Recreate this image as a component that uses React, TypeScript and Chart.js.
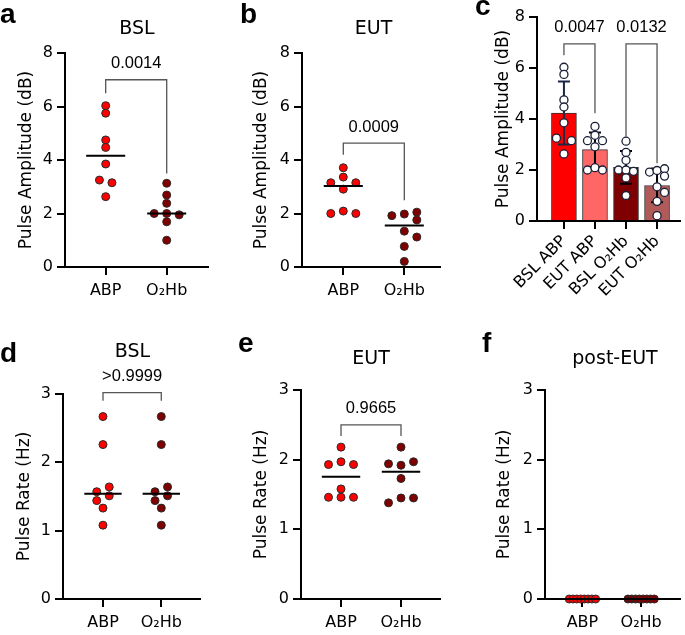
import React, { useEffect, useRef } from 'react';
import { Chart, registerables } from 'chart.js';

Chart.register(...registerables);

// ---------------- data ----------------
const groupLabels = ['ABP', 'O₂Hb'];
const barLabels = ['BSL ABP', 'EUT ABP', 'BSL O₂Hb', 'EUT O₂Hb'];

const ampBslABP = [6.03, 5.75, 4.75, 4.47, 3.85, 3.25, 3.15, 2.63];
const ampBslO2Hb = [3.13, 2.69, 2.38, 2.0, 2.0, 1.95, 1.69, 1.0];
const ampEutABP = [3.71, 3.36, 3.15, 3.15, 2.91, 2.0, 2.09, 2.0];
const ampEutO2Hb = [1.92, 1.98, 2.05, 1.76, 1.34, 1.12, 0.77, 0.21];

const rateBslABP = [2.67, 2.26, 1.57, 1.64, 1.44, 1.51, 1.33, 1.08];
const rateBslO2Hb = [2.67, 2.26, 1.57, 1.64, 1.44, 1.51, 1.33, 1.08];
const rateEutABP = [2.18, 1.93, 1.97, 1.93, 1.58, 1.46, 1.46, 1.46];
const rateEutO2Hb = [2.18, 1.94, 1.92, 1.97, 1.73, 1.38, 1.45, 1.45];
const ratePostABP = [0, 0, 0, 0, 0, 0, 0, 0];
const ratePostO2Hb = [0, 0, 0, 0, 0, 0, 0, 0];

const ampTicks = [0, 2, 4, 6, 8];
const rateTicks = [0, 1, 2, 3];

const pAmpBsl = '0.0014';
const pAmpEut = '0.0009';
const pAmpBslEutABP = '0.0047';
const pAmpBslEutO2Hb = '0.0132';
const pRateBsl = '>0.9999';
const pRateEut = '0.9665';

// ---------------- style ----------------
const RED = '#ff0000';
const MAROON = '#7f0000';
const SALMON = '#ff6666';
const ROSE = '#b05a5a';
const DOT_BORDER = '#2a2a2a';
const SANS = "'DejaVu Sans', Verdana, sans-serif";
const ARIAL = "'Liberation Sans', Arial, sans-serif";

const mean = (a: number[]) => a.reduce((s, v) => s + v, 0) / a.length;
const sd = (a: number[]) => {
  const m = mean(a);
  return Math.sqrt(a.reduce((s, v) => s + (v - m) ** 2, 0) / (a.length - 1));
};
const median = (a: number[]) => {
  const s = [...a].sort((x, y) => x - y);
  const n = s.length;
  return n % 2 ? s[(n - 1) / 2] : (s[n / 2 - 1] + s[n / 2]) / 2;
};

// ---------------- plugins ----------------
const swarm = {
  id: 'swarm',
  afterDatasetsUpdate(chart: any, _args: any, o: any) {
    const { step, maxWidth, pairHalf, rowTol, collide } = o;
    chart.data.datasets.forEach((ds: any, di: number) => {
      if (!ds.swarm) return;
      const meta = chart.getDatasetMeta(di);
      const pts = meta.data.map((el: any, i: number) => ({ el, i, y: el.y, x0: el.x, off: 0 }));
      const sorted = [...pts].sort((a: any, b: any) => a.y - b.y || a.i - b.i);
      const rows: any[][] = [];
      for (const p of sorted) {
        const last = rows[rows.length - 1];
        if (last && p.y - last[0].y < rowTol) last.push(p);
        else rows.push([p]);
      }
      const placed: any[] = [];
      for (const row of rows) {
        row.sort((a: any, b: any) => a.i - b.i);
        const n = row.length;
        let layouts: number[][];
        if (n === 1) layouts = [[0], [step], [-step], [2 * step], [-2 * step]];
        else if (n === 2)
          layouts = pairHalf ? [[-step / 2, step / 2], [-step, step]] : [[-step, step], [-1.5 * step, 1.5 * step]];
        else {
          const s = Math.min(step, maxWidth / (n - 1));
          layouts = [row.map((_: any, k: number) => (k - (n - 1) / 2) * s)];
        }
        let chosen = layouts[layouts.length - 1];
        for (const lay of layouts) {
          const ok = row.every((p: any, k: number) =>
            placed.every((q: any) => !(Math.abs(q.y - p.y) < collide && Math.abs(q.off - lay[k]) < 0.75 * step))
          );
          if (ok) {
            chosen = lay;
            break;
          }
        }
        row.forEach((p: any, k: number) => {
          p.off = chosen[k];
          p.el.x = p.x0 + chosen[k];
          placed.push(p);
        });
      }
    });
  },
};

const deco = {
  id: 'deco',
  afterDatasetDraw(chart: any, args: any) {
    const ds = chart.data.datasets[args.index];
    if (!ds.errorSD) return;
    const ctx = chart.ctx;
    const ys = chart.scales.y;
    args.meta.data.forEach((el: any, i: number) => {
      const m = ds.data[i].y;
      const s = ds.errorSD[i];
      const yt = ys.getPixelForValue(m + s);
      const yb = ys.getPixelForValue(m - s);
      ctx.save();
      ctx.strokeStyle = ds.errorColors[i];
      ctx.lineWidth = 2;
      ctx.beginPath();
      ctx.moveTo(el.x, yt);
      ctx.lineTo(el.x, yb);
      ctx.moveTo(el.x - 6, yt);
      ctx.lineTo(el.x + 6, yt);
      ctx.moveTo(el.x - 6, yb);
      ctx.lineTo(el.x + 6, yb);
      ctx.stroke();
      ctx.restore();
    });
  },
  afterDatasetsDraw(chart: any, _args: any, o: any) {
    const ctx = chart.ctx;
    const xs = chart.scales.x;
    const ys = chart.scales.y;
    chart.data.datasets.forEach((ds: any) => {
      if (!ds.medianLine) return;
      const y = ys.getPixelForValue(median(ds.values));
      ctx.save();
      ctx.strokeStyle = '#000';
      ctx.lineWidth = 2;
      ctx.beginPath();
      ctx.moveTo(xs.getPixelForValue(ds.cat - o.medianHalf), y);
      ctx.lineTo(xs.getPixelForValue(ds.cat + o.medianHalf), y);
      ctx.stroke();
      ctx.restore();
    });
    (o.brackets || []).forEach((b: any) => {
      const x1 = xs.getPixelForValue(b.from);
      const x2 = xs.getPixelForValue(b.to);
      const yt = ys.getPixelForValue(b.top);
      const y1 = ys.getPixelForValue(b.left);
      const y2 = ys.getPixelForValue(b.right);
      ctx.save();
      ctx.strokeStyle = '#555';
      ctx.lineWidth = 1.3;
      ctx.beginPath();
      ctx.moveTo(x1, y1);
      ctx.lineTo(x1, yt);
      ctx.lineTo(x2, yt);
      ctx.lineTo(x2, y2);
      ctx.stroke();
      ctx.fillStyle = '#000';
      ctx.font = `16.5px ${ARIAL}`;
      ctx.textAlign = 'center';
      ctx.textBaseline = 'middle';
      ctx.fillText(b.label, (x1 + x2) / 2, yt - o.labelGap);
      ctx.restore();
    });
  },
  afterDraw(chart: any, _args: any, o: any) {
    const ctx = chart.ctx;
    ctx.save();
    ctx.fillStyle = '#000';
    ctx.textBaseline = 'alphabetic';
    ctx.font = `bold 28px ${ARIAL}`;
    ctx.textAlign = 'left';
    ctx.fillText(o.letter, o.letterAt[0] - o.origin[0], o.letterAt[1] - o.origin[1]);
    if (o.title) {
      ctx.font = `19px ${SANS}`;
      ctx.textAlign = 'center';
      ctx.fillText(o.title, o.titleAt[0] - o.origin[0], o.titleAt[1] - o.origin[1]);
    }
    ctx.restore();
  },
};

// ---------------- panels ----------------
type Panel = {
  kind: 'dots' | 'bars';
  letter: string;
  letterAt: [number, number];
  title?: string;
  titleAt?: [number, number];
  canvas: [number, number, number, number];
  area: [number, number, number, number];
  xRange: [number, number];
  yTicks: number[];
  yTitle: string;
  yTitleX: number;
  cats: string[];
  series: number[][];
  colors: string[];
  brackets: any[];
  step: number;
};

const panels: Panel[] = [
  {
    kind: 'dots', letter: 'a', letterAt: [0, 23], title: 'BSL', titleAt: [137, 34],
    canvas: [0, 0, 225, 305], area: [65, 53, 208, 267], xRange: [-0.667, 1.677],
    yTicks: ampTicks, yTitle: 'Pulse Amplitude (dB)', yTitleX: 27, cats: groupLabels,
    series: [ampBslABP, ampBslO2Hb], colors: [RED, MAROON],
    brackets: [{ from: 0, to: 1, top: 7.0, left: 6.5, right: 3.5, label: pAmpBsl }], step: 12.5,
  },
  {
    kind: 'dots', letter: 'b', letterAt: [240, 23], title: 'EUT', titleAt: [373.5, 34],
    canvas: [225, 0, 225, 305], area: [302, 53, 440, 267], xRange: [-0.677, 1.585],
    yTicks: ampTicks, yTitle: 'Pulse Amplitude (dB)', yTitleX: 262, cats: groupLabels,
    series: [ampEutABP, ampEutO2Hb], colors: [RED, MAROON],
    brackets: [{ from: 0, to: 1, top: 4.63, left: 4.2, right: 2.5, label: pAmpEut }], step: 12.5,
  },
  {
    kind: 'bars', letter: 'c', letterAt: [475, 15],
    canvas: [450, 0, 235, 305], area: [537, 17, 680, 221], xRange: [-0.868, 3.73],
    yTicks: ampTicks, yTitle: 'Pulse Amplitude (dB)', yTitleX: 504, cats: barLabels,
    series: [ampBslABP, ampEutABP, ampBslO2Hb, ampEutO2Hb], colors: [RED, SALMON, MAROON, ROSE],
    brackets: [
      { from: 0, to: 1, top: 6.95, left: 6.5, right: 4.23, label: pAmpBslEutABP },
      { from: 2, to: 3, top: 6.95, left: 3.3, right: 2.26, label: pAmpBslEutO2Hb },
    ], step: 7.5,
  },
  {
    kind: 'dots', letter: 'd', letterAt: [0, 362], title: 'BSL', titleAt: [132.5, 357],
    canvas: [0, 305, 225, 330], area: [63, 394, 200, 599], xRange: [-0.686, 1.664],
    yTicks: rateTicks, yTitle: 'Pulse Rate (Hz)', yTitleX: 24.5, cats: groupLabels,
    series: [rateBslABP, rateBslO2Hb], colors: [RED, MAROON],
    brackets: [{ from: 0, to: 1, top: 3.02, left: 2.9, right: 2.9, label: pRateBsl }], step: 12.5,
  },
  {
    kind: 'dots', letter: 'e', letterAt: [238, 352], title: 'EUT', titleAt: [371, 364],
    canvas: [225, 305, 225, 330], area: [301, 390, 440, 599], xRange: [-0.667, 1.65],
    yTicks: rateTicks, yTitle: 'Pulse Rate (Hz)', yTitleX: 262, cats: groupLabels,
    series: [rateEutABP, rateEutO2Hb], colors: [RED, MAROON],
    brackets: [{ from: 0, to: 1, top: 2.5, left: 2.34, right: 2.34, label: pRateEut }], step: 12.5,
  },
  {
    kind: 'dots', letter: 'f', letterAt: [482, 352], title: 'post-EUT', titleAt: [615, 364],
    canvas: [450, 305, 235, 330], area: [545, 390, 683, 599], xRange: [-0.638, 1.662],
    yTicks: rateTicks, yTitle: 'Pulse Rate (Hz)', yTitleX: 504.5, cats: groupLabels,
    series: [ratePostABP, ratePostO2Hb], colors: [RED, MAROON],
    brackets: [], step: 12.5,
  },
];

function buildConfig(p: Panel): any {
  const [cx, cy, cw, ch] = p.canvas;
  const [l, t, r, b] = p.area;
  const tickFont = { family: SANS, size: 16 };
  const isBars = p.kind === 'bars';

  const dotSets = p.series.map((vals, i) => ({
    type: 'scatter',
    order: 1,
    data: vals.map((v) => ({ x: i, y: v })),
    values: vals,
    cat: i,
    swarm: true,
    medianLine: !isBars,
    backgroundColor: isBars ? '#ffffff' : p.colors[i],
    borderColor: isBars ? '#1a1f36' : DOT_BORDER,
    borderWidth: isBars ? 1.3 : 1,
    pointRadius: 4,
    pointHoverRadius: 4,
    clip: false,
  }));

  const datasets: any[] = [...dotSets];
  if (isBars) {
    datasets.push({
      type: 'bar',
      order: 2,
      data: p.series.map((vals, i) => ({ x: i, y: mean(vals) })),
      errorSD: p.series.map((vals) => sd(vals)),
      errorColors: ['#1c2747', '#000', '#000', '#000'],
      backgroundColor: p.colors,
      borderColor: '#333',
      borderWidth: 1,
      barThickness: 25,
    });
  }

  const gridCfg = { display: true, drawOnChartArea: false, drawTicks: true, tickLength: 8, color: '#000', lineWidth: 2, offset: false };
  const borderCfg = { display: true, color: '#000', width: 2 };

  return {
    type: isBars ? 'bar' : 'scatter',
    data: { datasets },
    options: {
      responsive: false,
      animation: false,
      devicePixelRatio: 1,
      events: [],
      layout: { padding: { left: 0, top: t - cy, right: cx + cw - r, bottom: 0 } },
      plugins: {
        legend: { display: false },
        tooltip: { enabled: false },
        title: { display: false },
        swarm: {
          step: p.step,
          maxWidth: isBars ? 15 : 26.3,
          pairHalf: !isBars,
          rowTol: 5,
          collide: 6.9,
        },
        deco: {
          origin: [cx, cy],
          letter: p.letter,
          letterAt: p.letterAt,
          title: p.title,
          titleAt: p.titleAt,
          brackets: p.brackets,
          medianHalf: 0.32,
          labelGap: 16,
        },
      },
      scales: {
        x: {
          type: 'linear',
          offset: false,
          min: p.xRange[0],
          max: p.xRange[1],
          afterBuildTicks: (s: any) => {
            s.ticks = p.cats.map((_, i) => ({ value: i }));
          },
          afterFit: (s: any) => {
            s.height = cy + ch - b;
          },
          grid: gridCfg,
          border: borderCfg,
          ticks: {
            color: '#000',
            font: isBars ? { family: SANS, size: 16 } : tickFont,
            padding: isBars ? 3 : 6,
            autoSkip: false,
            minRotation: isBars ? 45 : 0,
            maxRotation: isBars ? 45 : 0,
            callback: (v: any) => p.cats[Math.round(v)],
          },
        },
        y: {
          type: 'linear',
          min: p.yTicks[0],
          max: p.yTicks[p.yTicks.length - 1],
          afterBuildTicks: (s: any) => {
            s.ticks = p.yTicks.map((v) => ({ value: v }));
          },
          afterFit: (s: any) => {
            s.width = l - cx;
          },
          grid: gridCfg,
          border: borderCfg,
          ticks: { color: '#000', font: tickFont, padding: 4 },
          title: {
            display: true,
            text: p.yTitle,
            color: '#000',
            font: { family: SANS, size: 17, lineHeight: 1 },
            padding: { top: p.yTitleX - cx - 8.5, bottom: 0 },
          },
        },
      },
    },
    plugins: [swarm, deco],
  };
}

function PanelChart({ p }: { p: Panel }) {
  const ref = useRef<HTMLCanvasElement>(null);
  useEffect(() => {
    const chart = new Chart(ref.current as HTMLCanvasElement, buildConfig(p));
    return () => chart.destroy();
  }, [p]);
  const [x, y, w, h] = p.canvas;
  return (
    <canvas
      ref={ref}
      width={w}
      height={h}
      style={{ position: 'absolute', left: x, top: y, width: w, height: h }}
    />
  );
}

export default function App() {
  return (
    <div style={{ position: 'absolute', left: 0, top: 0, width: 685, height: 635, background: '#fff' }}>
      {panels.map((p) => (
        <PanelChart key={p.letter} p={p} />
      ))}
    </div>
  );
}
